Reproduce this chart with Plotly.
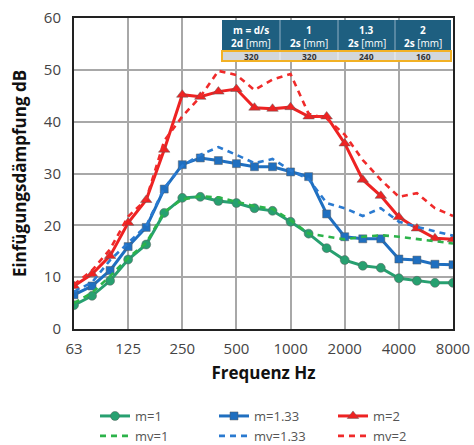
import plotly.graph_objects as go

freqs = ["63", "80", "100", "125", "160", "200", "250", "315", "400", "500", "630", "800",
         "1000", "1250", "1600", "2000", "2500", "3150", "4000", "5000", "6300", "8000"]
tick_labels = ["63", "125", "250", "500", "1000", "2000", "4000", "8000"]

m1 = [4.6, 6.4, 9.3, 13.4, 16.3, 22.4, 25.3, 25.5, 24.7, 24.3, 23.3, 22.8,
      20.7, 18.4, 15.6, 13.3, 12.2, 11.8, 9.8, 9.3, 8.9, 8.9]
mv1 = [5.0, 7.0, 10.2, 13.7, 16.6, 22.6, 25.0, 25.6, 25.4, 24.6, 23.7, 23.2,
       21.0, 18.4, 17.8, 17.3, 17.8, 18.1, 17.8, 17.4, 17.0, 16.5]
m133 = [6.6, 8.3, 11.3, 15.9, 19.6, 27.0, 31.7, 33.0, 32.5, 31.9, 31.3, 31.3,
        30.3, 29.4, 22.2, 17.8, 17.4, 17.4, 13.5, 13.3, 12.5, 12.4]
mv133 = [7.2, 9.0, 13.3, 16.6, 19.9, 27.2, 31.5, 33.6, 35.1, 33.6, 32.0, 32.8,
         30.6, 28.9, 24.3, 23.3, 21.8, 23.3, 20.7, 19.7, 18.8, 18.0]
m2 = [8.3, 10.6, 14.1, 20.5, 24.9, 34.6, 45.2, 44.8, 45.8, 46.3, 42.7, 42.5,
      42.8, 41.0, 41.0, 35.8, 28.8, 25.7, 21.6, 19.4, 17.5, 17.3]
mv2 = [8.6, 11.3, 15.4, 21.7, 25.0, 36.3, 41.0, 44.8, 49.8, 49.0, 46.1, 48.1,
       49.2, 41.5, 40.6, 37.5, 32.6, 28.8, 25.5, 26.2, 23.3, 21.8]

table_head1 = ["m = d/s", "1", "1.3", "2"]
table_head2 = ["2d", "2s", "2s", "2s"]
table_vals = ["320", "320", "240", "160"]

GREEN = "#27a070"
GREEN_D = "#2cb34a"
BLUE = "#1f6fc0"
BLUE_D = "#2a7ad0"
RED = "#ee2222"
RED_D = "#f02a2a"

x = list(range(len(freqs)))
fig = go.Figure()

def solid(y, name, color, symbol, size):
    fig.add_trace(go.Scatter(x=x, y=y, name=name, mode="lines+markers",
                             line=dict(color=color, width=3),
                             marker=dict(symbol=symbol, size=size, color=color,
                                         line=dict(color="rgba(90,90,90,0.6)", width=0.8))))

def dashed(y, name, color):
    fig.add_trace(go.Scatter(x=x, y=y, name=name, mode="lines",
                             line=dict(color=color, width=2.6, dash="6px,5px")))

solid(m1, "m=1", GREEN, "circle", 9)
solid(m133, "m=1.33", BLUE, "square", 8)
solid(m2, "m=2", RED, "triangle-up", 10)
dashed(mv1, "mv=1", GREEN_D)
dashed(mv133, "mv=1.33", BLUE_D)
dashed(mv2, "mv=2", RED_D)

FW, FH = 474, 445
L, R, T, B = 74, 453, 18, 329
W, H = R - L, B - T
def px(v):
    return (v - L) / W
def py(v):
    return (B - v) / H

cols = [222, 280, 338, 395, 451]
head_top, head_bot, row_top, row_bot = 20, 50, 51, 61
fig.add_shape(type="rect", xref="paper", yref="paper", x0=px(cols[0]), x1=px(cols[-1]),
              y0=py(head_bot), y1=py(head_top), fillcolor="#1e5f80", line=dict(width=0), layer="above")
fig.add_shape(type="rect", xref="paper", yref="paper", x0=px(cols[0]), x1=px(cols[-1]),
              y0=py(row_bot), y1=py(row_top), fillcolor="#d3d7db",
              line=dict(color="#f2b125", width=2), layer="above")
for c in cols[1:-1]:
    fig.add_shape(type="line", xref="paper", yref="paper", x0=px(c), x1=px(c),
                  y0=py(head_bot), y1=py(head_top), line=dict(color="#8fb0c4", width=1), layer="above")
    fig.add_shape(type="line", xref="paper", yref="paper", x0=px(c), x1=px(c),
                  y0=py(row_bot - 1), y1=py(row_top + 1), line=dict(color="#eef0f2", width=1), layer="above")

def cell(text, cx, cy, size, color):
    fig.add_annotation(x=px(cx), y=py(cy), xref="paper", yref="paper", showarrow=False,
                       xanchor="center", yanchor="middle", text=text, borderpad=0,
                       font=dict(color=color, size=size, family="Open Sans"))

for i in range(4):
    cx = (cols[i] + cols[i + 1]) / 2
    cell("<b>" + table_head1[i] + "</b>", cx, 29.6, 10, "white")
    cell("<b>" + table_head2[i] + "</b> [mm]", cx, 42.8, 10, "white")
    cell("<b>" + table_vals[i] + "</b>", cx, 56.5, 8.5, "#333333")

fig.update_layout(
    width=FW, height=FH,
    margin=dict(l=L, r=FW - R, t=T, b=FH - B, autoexpand=False),
    paper_bgcolor="white", plot_bgcolor="white",
    font=dict(family="Open Sans", color="#444444"),
    showlegend=True,
    legend=dict(orientation="h", xref="container", yref="container",
                x=95 / FW, y=(FH - 401) / FH, xanchor="left", yanchor="top",
                entrywidth=74, entrywidthmode="pixels",
                font=dict(size=13, color="#555555"), tracegroupgap=0),
)
fig.update_xaxes(range=[0, len(freqs) - 1], tickmode="array",
                 tickvals=[freqs.index(t) for t in tick_labels], ticktext=tick_labels,
                 showgrid=True, gridcolor="#a8a8a8", gridwidth=1.5,
                 showline=True, linecolor="#222222", linewidth=2, mirror=True,
                 ticks="", tickfont=dict(size=15, color="#444444"), automargin=False,
                 ticklabelstandoff=5,
                 title=dict(text="<b>Frequenz Hz</b>", font=dict(size=17, color="#111111"), standoff=10))
fig.update_yaxes(range=[0, 60], dtick=10,
                 showgrid=True, gridcolor="#a8a8a8", gridwidth=1.5,
                 showline=True, linecolor="#222222", linewidth=2, mirror=True,
                 ticks="", tickfont=dict(size=15, color="#444444"), automargin=False,
                 ticklabelstandoff=8,
                 title=dict(text="<b>Einfügungsdämpfung dB</b>", font=dict(size=17, color="#111111"), standoff=13))

fig.write_html("out.html", config={"displayModeBar": False},
               post_script="document.body.style.margin='0';document.body.style.overflow='hidden';")
